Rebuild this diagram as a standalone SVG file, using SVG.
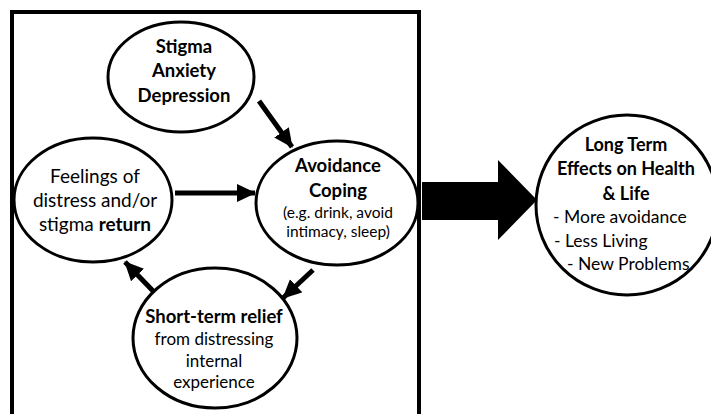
<svg xmlns="http://www.w3.org/2000/svg" width="711" height="414" viewBox="0 0 711 414">
<style>
.node{fill:#fff;stroke:#000;stroke-width:3}
.t{font-family:Lato,"Liberation Sans",sans-serif;fill:#000;text-anchor:middle}
.s{text-anchor:start}
.b{font-weight:bold}
.conn{stroke:#000;stroke-width:5;fill:none}
</style>
<defs>
<marker id="ah" markerUnits="userSpaceOnUse" markerWidth="20" markerHeight="20" viewBox="0 0 20 20" refX="18" refY="10" orient="auto">
<path d="M0,1 L19,10 L0,19 Z" fill="#000"/>
</marker>
</defs>
<rect x="12" y="12" width="407" height="420" fill="#fff" stroke="#000" stroke-width="4"/>
<g id="connectors">
<line class="conn" x1="259" y1="101" x2="292" y2="147" marker-end="url(#ah)"/>
<line class="conn" x1="175" y1="193" x2="255" y2="193" marker-end="url(#ah)"/>
<line class="conn" x1="313" y1="270" x2="283" y2="298" marker-end="url(#ah)"/>
<line class="conn" x1="155" y1="293" x2="125" y2="262" marker-end="url(#ah)"/>
<path id="bigarrow" d="M422,182 L498,182 L498,160 L537,200 L498,240 L498,220 L422,220 Z" fill="#000"/>
</g>
<g id="n-stigma">
<ellipse class="node" cx="181" cy="77" rx="73" ry="55"/>
<text class="t b" font-size="18.5" x="184" y="53">Stigma</text>
<text class="t b" font-size="18.5" x="184" y="77">Anxiety</text>
<text class="t b" font-size="18.5" x="184" y="102">Depression</text>
</g>
<g id="n-feelings">
<ellipse class="node" cx="93" cy="200" rx="79" ry="62"/>
<text class="t" font-size="19" x="95" y="183">Feelings of</text>
<text class="t" font-size="19" x="95" y="207">distress and/or</text>
<text class="t" font-size="19" x="95" y="231">stigma <tspan class="b">return</tspan></text>
</g>
<g id="n-avoidance">
<ellipse class="node" cx="337" cy="203" rx="81" ry="62"/>
<text class="t b" font-size="18.5" x="338" y="172">Avoidance</text>
<text class="t b" font-size="18.5" x="338" y="197">Coping</text>
<text class="t" font-size="15.5" x="338" y="218">(e.g. drink, avoid</text>
<text class="t" font-size="15.5" x="338" y="237">intimacy, sleep)</text>
</g>
<g id="n-relief">
<ellipse class="node" cx="215" cy="338" rx="82" ry="70"/>
<text class="t b" font-size="18.5" x="214" y="323">Short-term relief</text>
<text class="t" font-size="17" x="214" y="345">from distressing</text>
<text class="t" font-size="17" x="214" y="367">internal</text>
<text class="t" font-size="17" x="214" y="388">experience</text>
</g>
<g id="n-longterm">
<ellipse class="node" cx="627" cy="205" rx="91" ry="90"/>
<text class="t b" font-size="18" x="626" y="151">Long Term</text>
<text class="t b" font-size="18" x="626" y="175">Effects on Health</text>
<text class="t b" font-size="18" x="626" y="200">&amp; Life</text>
<text class="t s" font-size="17.5" x="553" y="223">- More avoidance</text>
<text class="t s" font-size="17.5" x="554" y="247">- Less Living</text>
<text class="t s" font-size="17.5" x="567" y="270">- New Problems</text>
</g>
</svg>
